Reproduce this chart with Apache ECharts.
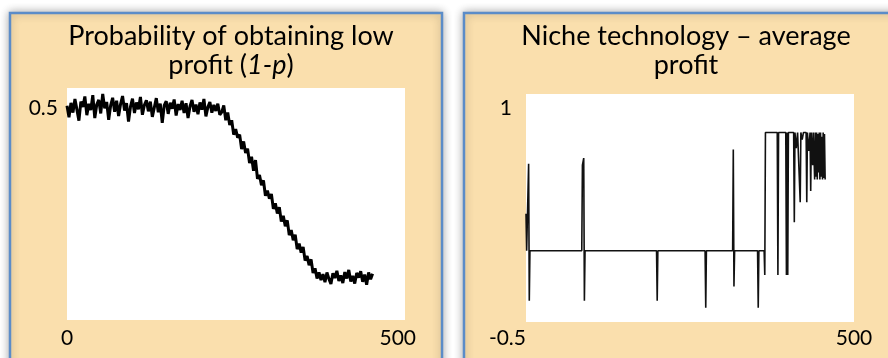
<!DOCTYPE html>
<html>
<head>
<meta charset="utf-8">
<script src="https://cdn.jsdelivr.net/npm/echarts@6/dist/echarts.min.js"></script>
<style>
  html, body { margin: 0; padding: 0; background: #fff; }
  #chart { width: 888px; height: 358px; }
</style>
</head>
<body>
<div id="chart"></div>
<script>
// left panel: probability of low profit, one value every STEP time units
const STEP = 3;
const lowProfitProb = [
  0.505,0.478,0.512,0.489,0.521,0.496,0.470,0.515,0.502,0.527,0.483,0.510,0.495,0.530,0.476,0.508,0.519,0.487,0.533,0.499,
  0.514,0.472,0.506,0.524,0.491,0.517,0.481,0.509,0.528,0.494,0.511,0.468,0.503,0.522,0.488,0.513,0.497,0.526,0.484,0.507,
  0.518,0.492,0.515,0.479,0.501,0.523,0.490,0.510,0.465,0.506,0.516,0.486,0.512,0.498,0.520,0.482,0.509,0.495,0.517,0.488,
  0.511,0.476,0.504,0.519,0.491,0.508,0.485,0.513,0.496,0.521,0.480,0.502,0.514,0.489,0.507,0.493,0.510,0.484,
  0.490,0.506,0.471,0.489,0.460,0.471,0.437,0.450,0.430,0.437,0.403,0.421,0.394,0.404,0.370,0.385,0.352,0.377,0.333,0.342,
  0.318,0.329,0.293,0.305,0.286,0.297,0.262,0.275,0.251,0.266,0.232,0.246,0.221,0.235,0.200,0.212,0.188,0.201,0.167,0.180,
  0.159,0.172,0.140,0.151,0.129,0.143,0.111,0.122,0.098,0.112,
  0.094,0.108,0.089,0.112,0.097,0.085,0.110,0.099,0.116,0.092,0.105,0.087,0.113,0.098,0.118,0.091,0.104,0.086,0.111,0.100,
  0.115,0.090,0.107,0.083,0.112,0.096,0.109
];

// right panel: niche technology average profit, [time, value]
const nicheTime = [
  0, 1, 3, 4, 5, 6, 85, 86, 88, 89, 90, 199, 200, 201, 273, 274, 275,
  315, 316, 317, 318, 353, 354, 355, 363, 364, 365, 383, 384, 385,
  396, 397, 398, 399, 400, 408, 409, 410, 412, 414, 417, 418, 419, 421, 423,
  427, 428, 429, 431, 433, 434, 435, 437, 438, 440, 441, 442, 443, 444, 445,
  446, 447, 448, 449, 450, 451, 452, 453, 454, 455, 456, 457
];
const nicheProfit = [
  0.26, 0, 0, 0.61, -0.35, 0, 0, 0.60, 0.65, -0.35, 0, 0, -0.35, 0, 0, -0.40, 0,
  0, 0.71, -0.25, 0, 0, -0.40, 0, 0, -0.17, 0.83, 0.83, -0.17, 0.83,
  0.83, -0.17, 0.83, -0.17, 0.83, 0.83, 0.20, 0.83, 0.72, 0.83, 0.83, 0.34, 0.83, 0.78, 0.83,
  0.83, 0.34, 0.83, 0.70, 0.83, 0.42, 0.83, 0.60, 0.83, 0.50, 0.83, 0.52, 0.83, 0.50, 0.82,
  0.55, 0.83, 0.50, 0.83, 0.52, 0.80, 0.50, 0.83, 0.51, 0.82, 0.50, 0.50
];

const leftXTicks = [0, 500];
const leftYTicks = [0.5];
const rightXTicks = [500];
const rightYTicks = [-0.5, 1];

const titles = [
  'Probability of obtaining low\nprofit ({i|1-p})',
  'Niche technology \u2013 average\nprofit'
];

const FONT = 'Lato';
const PANEL_FILL = '#FADFAD';
const PANEL_BORDER = '#5B8CC8';

const chart = echarts.init(document.getElementById('chart'), null, {renderer: 'canvas'});

const labelStyle = {color: '#000', fontFamily: FONT, fontSize: 21};
const titleStyle = {
  color: '#000', fontFamily: FONT, fontSize: 27, lineHeight: 29, fontWeight: 'normal',
  rich: {i: {fontFamily: FONT, fontSize: 27, lineHeight: 29, fontStyle: 'italic', color: '#000'}}
};

function panel(x, w) {
  return {
    type: 'rect', z: -10,
    shape: {x: x, y: 13, width: w, height: 370},
    style: {
      fill: PANEL_FILL, stroke: PANEL_BORDER, lineWidth: 2.5,
      shadowBlur: 9, shadowColor: 'rgba(0,0,0,0.3)', shadowOffsetX: 0, shadowOffsetY: 0
    }
  };
}

chart.setOption({
  animation: false,
  backgroundColor: '#fff',
  graphic: [panel(10, 432), panel(464, 440)],
  title: [
    {text: titles[0], left: 226, top: 17, textAlign: 'center', textStyle: titleStyle},
    {text: titles[1], left: 681, top: 17, textAlign: 'center', textStyle: titleStyle}
  ],
  grid: [
    {left: 67, right: 483, top: 88, height: 232, show: true, backgroundColor: '#fff', borderWidth: 0},
    {left: 526, right: 34, top: 94, height: 228, show: true, backgroundColor: '#fff', borderWidth: 0}
  ],
  xAxis: [
    {
      gridIndex: 0, type: 'value', min: 0, max: 511,
      axisLine: {show: false}, axisTick: {show: false}, splitLine: {show: false},
      axisLabel: Object.assign({customValues: leftXTicks, margin: 8}, labelStyle)
    },
    {
      gridIndex: 1, type: 'value', min: 0, max: 500,
      axisLine: {show: false}, axisTick: {show: false}, splitLine: {show: false},
      axisLabel: Object.assign({customValues: rightXTicks, margin: 6}, labelStyle)
    }
  ],
  yAxis: [
    {
      gridIndex: 0, type: 'value', min: 0, max: 0.547,
      axisLine: {show: false}, axisTick: {show: false}, splitLine: {show: false},
      axisLabel: Object.assign({customValues: leftYTicks, margin: 9}, labelStyle)
    },
    {
      gridIndex: 1, type: 'value', min: -0.5, max: 1.1,
      axisLine: {show: false}, axisTick: {show: false}, splitLine: {show: false},
      axisLabel: Object.assign({
        customValues: rightYTicks, margin: 0,
        formatter: v => v === 1 ? '{a|1}' : '{b|' + v + '}',
        rich: {
          a: {fontFamily: FONT, fontSize: 21, color: '#000', padding: [0, 14, 0, 0]},
          b: {fontFamily: FONT, fontSize: 21, color: '#000', padding: [32, 0, 0, 0]}
        }
      }, labelStyle)
    }
  ],
  series: [
    {
      type: 'line', xAxisIndex: 0, yAxisIndex: 0, showSymbol: false,
      lineStyle: {color: '#000', width: 3},
      data: lowProfitProb.map((v, i) => [i * STEP, v])
    },
    {
      type: 'line', xAxisIndex: 1, yAxisIndex: 1, showSymbol: false,
      lineStyle: {color: '#111', width: 1.6},
      data: nicheTime.map((t, i) => [t, nicheProfit[i]])
    }
  ]
});
</script>
</body>
</html>
